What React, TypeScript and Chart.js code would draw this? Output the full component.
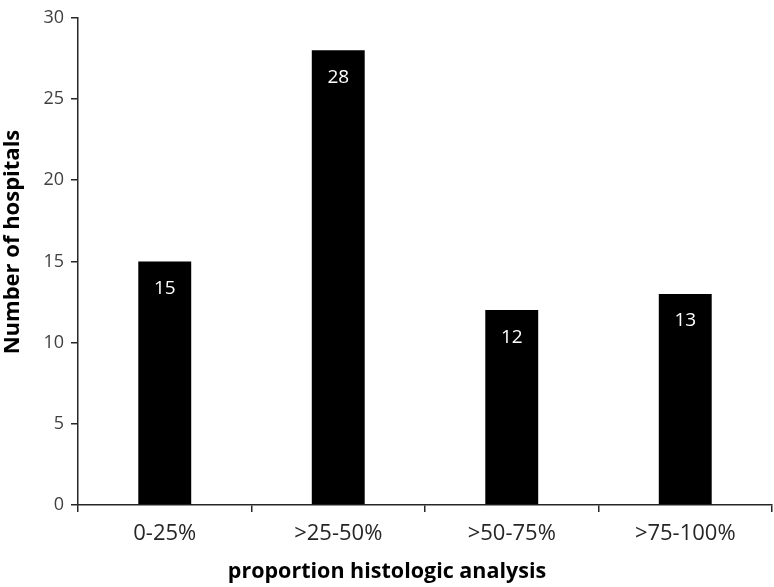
import React, { useEffect, useRef } from "react";
import { Chart, registerables } from "chart.js";

Chart.register(...registerables);

const categories = ["0-25%", ">25-50%", ">50-75%", ">75-100%"];
const hospitals = [15, 28, 12, 13];
const yTitle = "Number of hospitals";
const xTitle = "proportion histologic analysis";

const FONT = "'Open Sans', 'Noto Sans', sans-serif";

const barLabels = {
  id: "barLabels",
  afterDatasetsDraw(chart: any) {
    const ctx = chart.ctx;
    const meta = chart.getDatasetMeta(0);
    ctx.save();
    ctx.fillStyle = "#ffffff";
    ctx.font = `19px ${FONT}`;
    ctx.textAlign = "center";
    ctx.textBaseline = "middle";
    meta.data.forEach((bar: any, i: number) => {
      ctx.fillText(String(hospitals[i]), bar.x, bar.y + 27);
    });
    ctx.restore();
  },
};

const axisTitles = {
  id: "axisTitles",
  afterDraw(chart: any) {
    const ctx = chart.ctx;
    ctx.save();
    ctx.fillStyle = "#000000";
    ctx.font = `bold 21.5px ${FONT}`;
    ctx.textAlign = "center";
    ctx.textBaseline = "middle";
    ctx.fillText(xTitle, chart.width / 2, 572);
    ctx.font = `bold 22px ${FONT}`;
    ctx.translate(13, 242);
    ctx.rotate(-Math.PI / 2);
    ctx.fillText(yTitle, 0, 0);
    ctx.restore();
  },
};

export default function App() {
  const ref = useRef<HTMLCanvasElement>(null);
  useEffect(() => {
    document.body.style.margin = "0";
    const chart = new Chart(ref.current!, {
      type: "bar",
      data: {
        labels: categories,
        datasets: [
          {
            data: hospitals,
            backgroundColor: "#000000",
            borderWidth: 0,
            categoryPercentage: 0.305,
            barPercentage: 1,
          },
        ],
      },
      options: {
        responsive: false,
        animation: false,
        devicePixelRatio: 1,
        layout: { padding: { top: 7, right: 2, left: 0, bottom: 0 } },
        plugins: { legend: { display: false }, tooltip: { enabled: false } },
        scales: {
          x: {
            grid: {
              drawOnChartArea: false,
              drawTicks: true,
              tickLength: 7,
              color: "#262626",
              lineWidth: 1.5,
            },
            border: { color: "#262626", width: 1.5 },
            ticks: {
              color: "#262626",
              font: { family: FONT, size: 22 },
              padding: 9,
            },
            afterFit(scale: any) {
              scale.height = 82;
            },
          },
          y: {
            min: 0,
            max: 30,
            ticks: {
              stepSize: 5,
              color: "#404040",
              font: { family: FONT, size: 18 },
              padding: 7,
            },
            grid: {
              drawOnChartArea: false,
              drawTicks: true,
              tickLength: 7,
              color: "#262626",
              lineWidth: 1.5,
            },
            border: { color: "#262626", width: 1.5 },
            afterFit(scale: any) {
              scale.width = 78;
            },
          },
        },
      },
      plugins: [barLabels, axisTitles],
    });
    return () => chart.destroy();
  }, []);
  return <canvas ref={ref} width={774} height={587} />;
}
